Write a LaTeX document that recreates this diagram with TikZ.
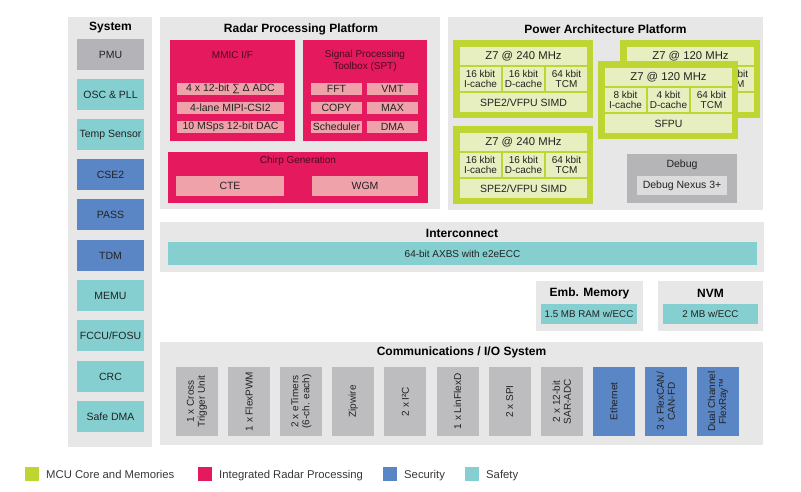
\documentclass[tikz,border=0pt]{standalone}
\usepackage{fontspec}
\setmainfont{Liberation Sans}
\usetikzlibrary{calc}
\definecolor{panelgray}{HTML}{E7E7E8}
\definecolor{pmugray}{HTML}{B4B4B8}
\definecolor{safety}{HTML}{86CFD1}
\definecolor{security}{HTML}{5B86C6}
\definecolor{radar}{HTML}{E5195E}
\definecolor{radarlight}{HTML}{F0A2AB}
\definecolor{radartxt}{HTML}{4A0B1F}
\definecolor{mcu}{HTML}{BFD531}
\definecolor{mculight}{HTML}{E7EEBF}
\definecolor{debugdark}{HTML}{B5B5B8}
\definecolor{debuglight}{HTML}{DCDCDD}
\definecolor{commgray}{HTML}{BDBDBF}
\definecolor{txt}{HTML}{222222}
\newcommand\fsz[2]{\fontsize{#1}{#2}\selectfont}
\tikzset{
  bx/.style={anchor=north west, inner sep=0pt, outer sep=0pt, align=center, text=txt, font=\fsz{10.5}{12}},
  ttl/.style={inner sep=0pt, text=black, font=\bfseries\fsz{12}{14}},
  sysbx/.style={bx, minimum width=67pt, minimum height=31pt},
  rsub/.style={bx, fill=radarlight, minimum height=12pt},
  cellbx/.style={bx, fill=mculight, minimum width=41pt, minimum height=24pt, font=\fsz{10}{10.8}},
  commbx/.style={inner sep=0pt, outer sep=0pt, align=center, text=txt, font=\fsz{10}{11}, rotate=90, minimum width=69pt, minimum height=42pt},
  legsq/.style={anchor=north west, inner sep=0pt, minimum width=14pt, minimum height=14pt},
  legtxt/.style={anchor=base west, inner sep=0pt, text=txt!90, font=\fsz{11.3}{13}}
}
\newcommand\mcucore[8]{%
  \node[bx, fill=mcu, minimum width=140pt, minimum height=78pt] (#1) at (#2,#3) {};
  \node[bx, fill=mculight, minimum width=127pt, minimum height=18pt, font=\fsz{11.3}{12.5}] (#1h) at ($(#2,#3)+(7,7)$) {#4};
  \node[cellbx] (#1a) at ($(#2,#3)+(7,27)$) {#5};
  \node[cellbx] (#1b) at ($(#2,#3)+(50,27)$) {#6};
  \node[cellbx] (#1c) at ($(#2,#3)+(93,27)$) {#7};
  \node[bx, fill=mculight, minimum width=127pt, minimum height=19pt, font=\fsz{10.5}{12}] (#1s) at ($(#2,#3)+(7,53)$) {#8};
}
\begin{document}
\begin{tikzpicture}[x=1pt,y=-1pt]
\useasboundingbox[fill=white] (0,0) rectangle (801,491);

% ---------------- System column
\node[bx, fill=panelgray, minimum width=84pt, minimum height=430pt] (syspanel) at (68,17) {};
\node[ttl] (systitle) at (110.5,28) {System};
\node[sysbx, fill=pmugray] (pmu) at (77,39) {PMU};
\node[sysbx, fill=safety] (osc) at (77,79) {OSC \& PLL};
\node[sysbx, fill=safety] (temp) at (77,119) {Temp Sensor};
\node[sysbx, fill=security] (cse) at (77,159) {CSE2};
\node[sysbx, fill=security] (pass) at (77,199) {PASS};
\node[sysbx, fill=security] (tdm) at (77,240) {TDM};
\node[sysbx, fill=safety] (memu) at (77,280) {MEMU};
\node[sysbx, fill=safety] (fccu) at (77,320) {FCCU/FOSU};
\node[sysbx, fill=safety] (crc) at (77,361) {CRC};
\node[sysbx, fill=safety] (sdma) at (77,401) {Safe DMA};

% ---------------- Radar Processing Platform
\node[bx, fill=panelgray, minimum width=280pt, minimum height=192pt] (radpanel) at (160,17) {};
\node[ttl] (radtitle) at (301,29) {Radar Processing Platform};
\node[bx, fill=radar, minimum width=125pt, minimum height=101pt] (mmic) at (170,40) {};
\node[inner sep=0pt, text=radartxt, font=\fsz{10}{11.5}] (mmiclbl) at (232.5,55) {MMIC I/F};
\node[rsub, minimum width=107pt] (adc) at (177,83) {4 x 12-bit ∑ Δ\ ADC};
\node[rsub, minimum width=107pt] (mipi) at (177,102) {4-lane MIPI-CSI2};
\node[rsub, minimum width=107pt] (dac) at (177,121) {10 MSps 12-bit DAC};
\node[bx, fill=radar, minimum width=124pt, minimum height=101pt] (spt) at (303,40) {};
\node[inner sep=0pt, align=center, text=radartxt, font=\fsz{10}{12.5}] (sptlbl) at (365,61) {Signal Processing\\Toolbox (SPT)};
\node[rsub, minimum width=51pt] (fft) at (311,83) {FFT};
\node[rsub, minimum width=51pt] (vmt) at (367,83) {VMT};
\node[rsub, minimum width=51pt] (copy) at (311,102) {COPY};
\node[rsub, minimum width=51pt] (max) at (367,102) {MAX};
\node[rsub, minimum width=51pt] (sched) at (311,121) {Scheduler};
\node[rsub, minimum width=51pt] (dma) at (367,121) {DMA};
\node[bx, fill=radar, minimum width=260pt, minimum height=51pt] (chirp) at (168,152) {};
\node[inner sep=0pt, text=radartxt, font=\fsz{10}{11.5}] (chirplbl) at (298,161) {Chirp Generation};
\node[rsub, minimum width=108pt, minimum height=20pt] (cte) at (176,176) {CTE};
\node[rsub, minimum width=106pt, minimum height=20pt] (wgm) at (312,176) {WGM};

% ---------------- Power Architecture Platform
\node[bx, fill=panelgray, minimum width=315pt, minimum height=193pt] (powpanel) at (448,17) {};
\node[ttl] (powtitle) at (605.5,29) {Power Architecture Platform};
\mcucore{cA}{453}{40}{Z7 @ 240 MHz}{16 kbit\\I-cache}{16 kbit\\D-cache}{64 kbit\\TCM}{SPE2/VFPU SIMD}
\mcucore{cB}{453}{126}{Z7 @ 240 MHz}{16 kbit\\I-cache}{16 kbit\\D-cache}{64 kbit\\TCM}{SPE2/VFPU SIMD}
\mcucore{cC}{620}{40}{Z7 @ 120 MHz}{}{}{64 kbit\\TCM}{}
\mcucore{cD}{598}{61}{Z7 @ 120 MHz}{8 kbit\\I-cache}{4 kbit\\D-cache}{64 kbit\\TCM}{SFPU}
\node[bx, fill=debugdark, minimum width=110pt, minimum height=49pt] (debug) at (627,154) {};
\node[inner sep=0pt, text=txt, font=\fsz{10.5}{12}] (debuglbl) at (682,165) {Debug};
\node[bx, fill=debuglight, minimum width=90pt, minimum height=19pt] (nexus) at (637,176) {Debug Nexus 3+};

% ---------------- Interconnect
\node[bx, fill=panelgray, minimum width=604pt, minimum height=50pt] (icpanel) at (160,222) {};
\node[ttl] (ictitle) at (462,233) {Interconnect};
\node[bx, fill=safety, minimum width=589pt, minimum height=23pt, font=\fsz{10}{11}] (axbs) at (168,242) {64-bit AXBS with e2eECC};

% ---------------- Memories
\node[bx, fill=panelgray, minimum width=107pt, minimum height=50pt] (empanel) at (536,281) {};
\node[ttl] (emtitle) at (589.5,293) {Emb. Memory};
\node[bx, fill=safety, minimum width=96pt, minimum height=20pt, font=\fsz{9.8}{11}] (ram) at (541,304) {1.5 MB RAM w/ECC};
\node[bx, fill=panelgray, minimum width=105pt, minimum height=50pt] (nvmpanel) at (658,281) {};
\node[ttl] (nvmtitle) at (710.5,293) {NVM};
\node[bx, fill=safety, minimum width=95pt, minimum height=20pt, font=\fsz{9.8}{11}] (nvm) at (663,304) {2 MB w/ECC};

% ---------------- Communications / I/O System
\node[bx, fill=panelgray, minimum width=603pt, minimum height=103pt] (companel) at (160,342) {};
\node[ttl] (comtitle) at (461.5,352) {Communications / I/O System};
\node[commbx, fill=commgray] (cm1) at (197,401.5) {1 x Cross\\Trigger Unit};
\node[commbx, fill=commgray] (cm2) at (249.1,401.5) {1 x FlexPWM};
\node[commbx, fill=commgray] (cm3) at (301.2,401.5) {2 x eTimers\\(6-ch. each)};
\node[commbx, fill=commgray] (cm4) at (353.3,401.5) {Zipwire};
\node[commbx, fill=commgray] (cm5) at (405.4,401.5) {2 x I²C};
\node[commbx, fill=commgray] (cm6) at (457.5,401.5) {1 x LinFlexD};
\node[commbx, fill=commgray] (cm7) at (509.6,401.5) {2 x SPI};
\node[commbx, fill=commgray] (cm8) at (561.7,401.5) {2 x 12-bit\\SAR-ADC};
\node[commbx, fill=security] (cm9) at (613.8,401.5) {Ethernet};
\node[commbx, fill=security] (cm10) at (665.9,401.5) {3 x FlexCAN/\\CAN-FD};
\node[commbx, fill=security] (cm11) at (718,401.5) {Dual Channel\\FlexRay™};

% ---------------- Legend
\node[legsq, fill=mcu] (lg1) at (25,467) {};
\node[legtxt] (lt1) at (46,478) {MCU Core and Memories};
\node[legsq, fill=radar] (lg2) at (198,467) {};
\node[legtxt] (lt2) at (219,478) {Integrated Radar Processing};
\node[legsq, fill=security] (lg3) at (383,467) {};
\node[legtxt] (lt3) at (404,478) {Security};
\node[legsq, fill=safety] (lg4) at (465,467) {};
\node[legtxt] (lt4) at (486,478) {Safety};
\end{tikzpicture}
\end{document}
